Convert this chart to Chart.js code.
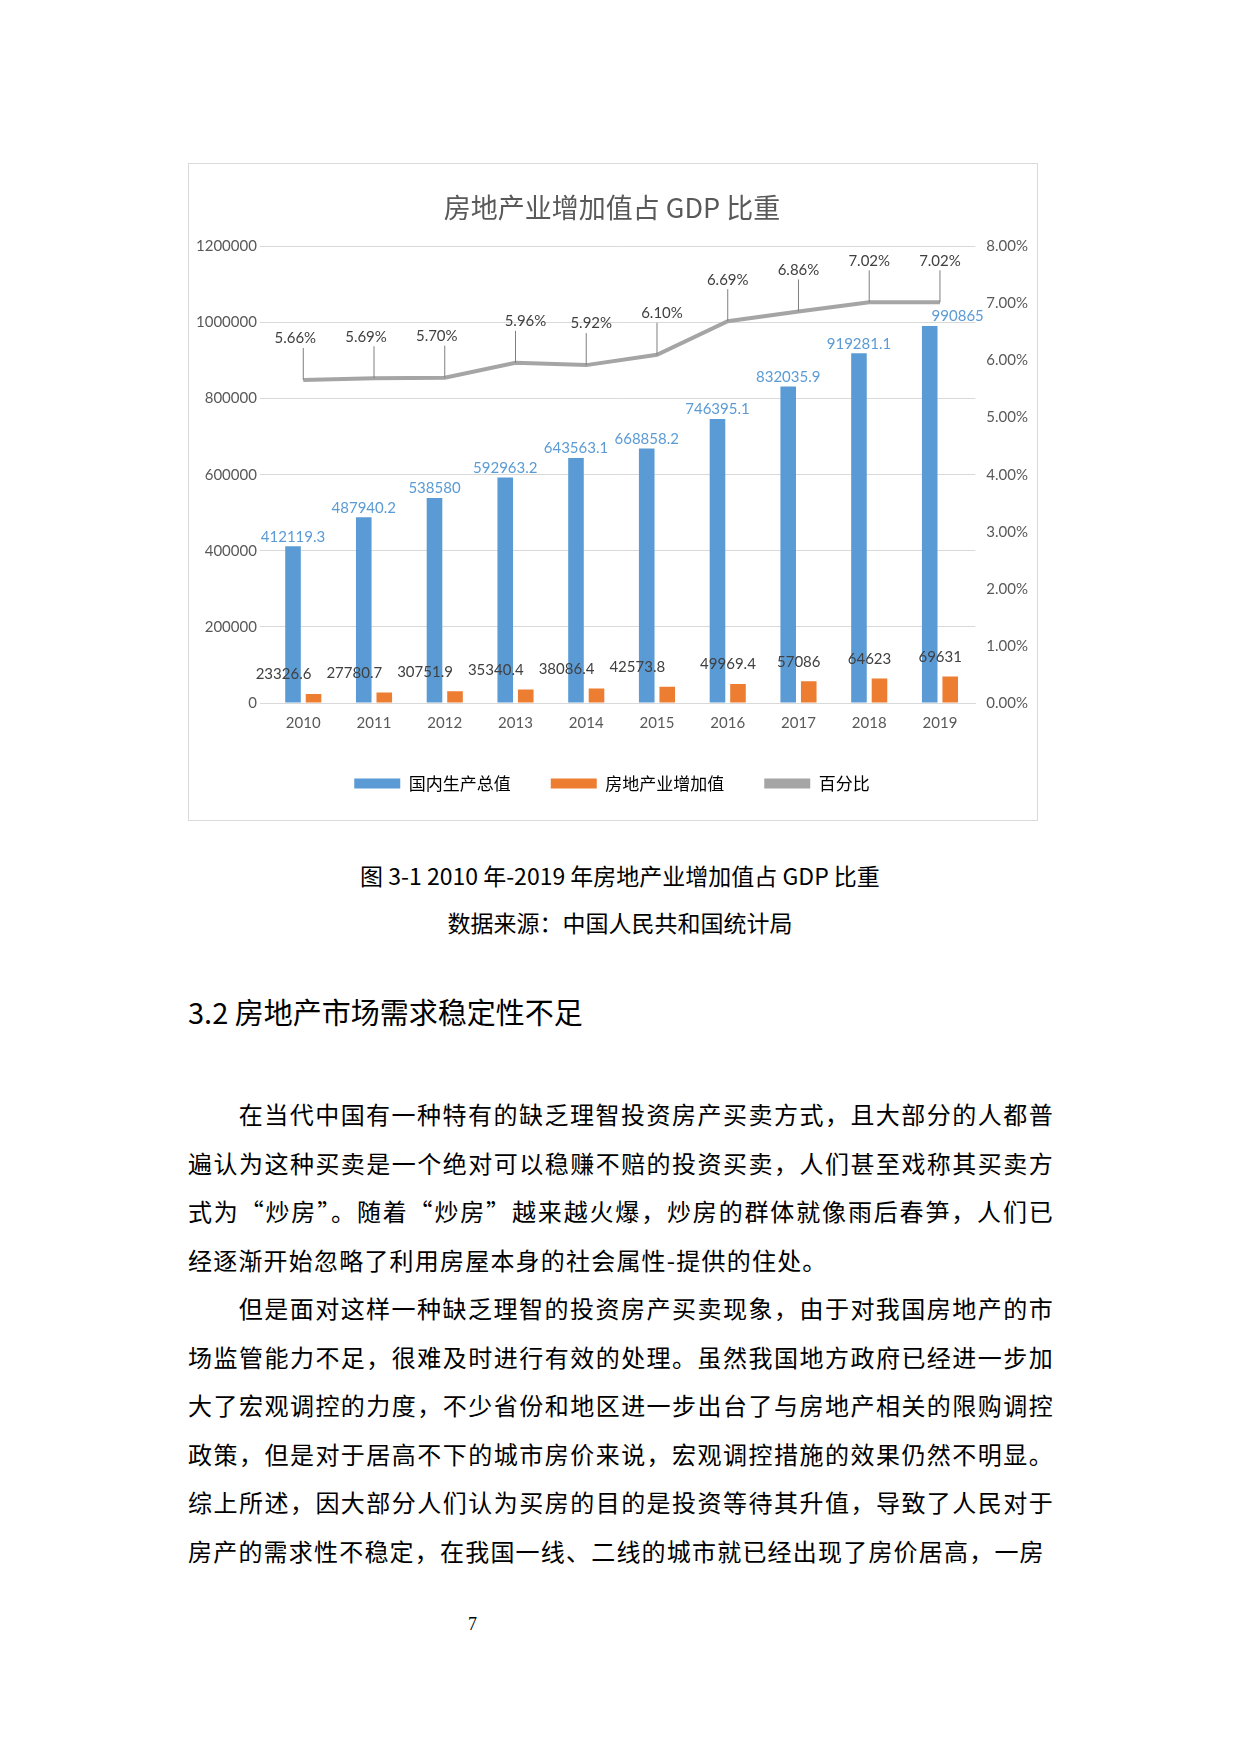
<!DOCTYPE html>
<html><head><meta charset="utf-8">
<script src="https://cdn.jsdelivr.net/npm/chart.js@4/dist/chart.umd.min.js"></script>
<style>
body{margin:0;width:1240px;height:1754px;background:#fff;position:relative;font-family:"Noto Sans CJK SC",sans-serif;}
#frame{position:absolute;left:188px;top:163px;width:850px;height:658px;border:1.5px solid #d9d9d9;box-sizing:border-box;}
.t{position:absolute;color:#000;font-size:23px;}
.p{position:absolute;left:188px;width:866px;font-size:24px;letter-spacing:1.2px;line-height:48.5px;color:#000;text-align:justify;}
</style></head><body>
<div id="frame"><canvas id="c"></canvas></div>
<div class="t" style="left:0;width:1240px;text-align:center;top:858px;">图 3-1 2010 年-2019 年房地产业增加值占 GDP 比重</div>
<div class="t" style="left:0;width:1240px;text-align:center;top:905px;">数据来源：中国人民共和国统计局</div>
<div class="t" style="left:188px;top:990px;font-size:29px;">3.2 房地产市场需求稳定性不足</div>
<div class="p" style="top:1090px;">&emsp;&emsp;在当代中国有一种特有的缺乏理智投资房产买卖方式，且大部分的人都普遍认为这种买卖是一个绝对可以稳赚不赔的投资买卖，人们甚至戏称其买卖方式为“炒房”。随着“炒房”越来越火爆，炒房的群体就像雨后春笋，人们已经逐渐开始忽略了利用房屋本身的社会属性-提供的住处。<br>&emsp;&emsp;但是面对这样一种缺乏理智的投资房产买卖现象，由于对我国房地产的市场监管能力不足，很难及时进行有效的处理。虽然我国地方政府已经进一步加大了宏观调控的力度，不少省份和地区进一步出台了与房地产相关的限购调控政策，但是对于居高不下的城市房价来说，宏观调控措施的效果仍然不明显。综上所述，因大部分人们认为买房的目的是投资等待其升值，导致了人民对于房产的需求性不稳定，在我国一线、二线的城市就已经出现了房价居高，一房</div>
<div class="t" style="left:468px;top:1614px;font-size:18px;font-family:'Liberation Serif',serif;">7</div>
<script>
const years=['2010','2011','2012','2013','2014','2015','2016','2017','2018','2019'];
const gdp=[412119.3,487940.2,538580,592963.2,643563.1,668858.2,746395.1,832035.9,919281.1,990865];
const estate=[23326.6,27780.7,30751.9,35340.4,38086.4,42573.8,49969.4,57086,64623,69631];
const pct=[5.66,5.69,5.70,5.96,5.92,6.10,6.69,6.86,7.02,7.02];
const gdpLbl=['412119.3','487940.2','538580','592963.2','643563.1','668858.2','746395.1','832035.9','919281.1','990865'];
const estLbl=['23326.6','27780.7','30751.9','35340.4','38086.4','42573.8','49969.4','57086','64623','69631'];
const F='"Noto Sans CJK SC",Lato,sans-serif';
const labels={id:'lbl',afterDatasetsDraw(ch){
 const x=ch.ctx;x.save();x.font='15px Lato,'+F;x.textAlign='center';x.textBaseline='bottom';
 ch.getDatasetMeta(0).data.forEach((b,i)=>{x.fillStyle='#5b9bd5';x.fillText(gdpLbl[i],b.x-(i==9?-28:0),b.y-2);});
 ch.getDatasetMeta(1).data.forEach((b,i)=>{x.fillStyle='#404040';x.fillText(estLbl[i],b.x-(i<6?30:10),b.y-12);});
 ch.getDatasetMeta(2).data.forEach((p,i)=>{x.strokeStyle='#7f7f7f';x.lineWidth=1;x.beginPath();x.moveTo(p.x,p.y);x.lineTo(p.x,p.y-32);x.stroke();
  x.fillStyle='#404040';x.fillText(pct[i].toFixed(2)+'%',p.x-(i<3?8:(i==3?-10:(i<6?-5:0))),p.y-34);});
 x.restore();}};
new Chart(document.getElementById('c'),{
 data:{labels:years,datasets:[
  {type:'bar',label:'国内生产总值',data:gdp,backgroundColor:'#5b9bd5',yAxisID:'y',categoryPercentage:0.58,barPercentage:0.76,order:2},
  {type:'bar',label:'房地产业增加值',data:estate,backgroundColor:'#ed7d31',yAxisID:'y',categoryPercentage:0.58,barPercentage:0.76,order:2},
  {type:'line',label:'百分比',data:pct,borderColor:'#a5a5a5',backgroundColor:'#a5a5a5',borderWidth:4,pointRadius:0,yAxisID:'y1',order:1}]},
 options:{responsive:true,maintainAspectRatio:false,animation:false,
  layout:{padding:{left:4,right:6,top:8,bottom:18}},
  plugins:{title:{display:true,text:'房地产业增加值占 GDP 比重',color:'#595959',font:{family:F,size:27,weight:'normal'},padding:{top:20,bottom:22}},
   legend:{position:'bottom',labels:{color:'#595959',font:{family:F,size:17},boxWidth:46,boxHeight:10,padding:40,
    generateLabels:(c)=>c.data.datasets.map((d,i)=>({text:d.label,fillStyle:d.type=='line'?'#a5a5a5':d.backgroundColor,strokeStyle:'transparent',lineWidth:0,datasetIndex:i}))}},
   tooltip:{enabled:false}},
  scales:{x:{grid:{display:false},border:{color:'#d9d9d9'},ticks:{color:'#595959',font:{family:'Lato',size:15}}},
   y:{min:0,max:1200000,ticks:{stepSize:200000,color:'#595959',font:{family:'Lato',size:15},callback:v=>String(v)},grid:{color:'#d9d9d9'},border:{display:false}},
   y1:{position:'right',min:0,max:8,ticks:{stepSize:1,color:'#595959',font:{family:'Lato',size:15},callback:v=>v.toFixed(2)+'%'},grid:{display:false},border:{display:false}}}},
 plugins:[labels]});
</script></body></html>
